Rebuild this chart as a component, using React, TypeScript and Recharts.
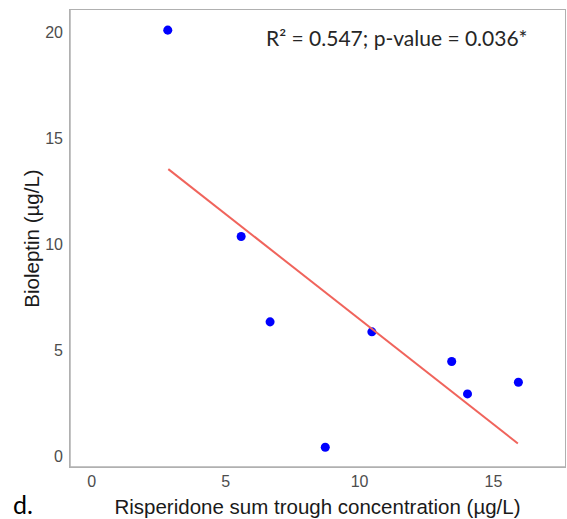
import React from 'react';
import { ScatterChart, Scatter, XAxis, YAxis, ZAxis } from 'recharts';

// readings taken off the figure
const concentration = [2.84, 5.58, 6.66, 8.72, 10.46, 13.44, 14.03, 15.93];
const bioleptin = [20.1, 10.36, 6.33, 0.41, 5.86, 4.46, 2.93, 3.48];

// fitted regression line, two ends
const fitX = [2.86, 15.91];
const fitY = [13.54, 0.59];

const xTicks = [0, 5, 10, 15];
const yTicks = [0, 5, 10, 15, 20];
const xLimits = [-0.81, 17.67];
const yLimits = [-0.52, 21.05];

const points = concentration.map((x, i) => ({ x, y: bioleptin[i] }));
const fitLine = fitX.map((x, i) => ({ x, y: fitY[i] }));

const frame = '#b0b0b0';
const tickStyle = { fill: '#4d4d4d', fontSize: 16, fontFamily: 'Liberation Sans, Arial, sans-serif' };
const titleStyle = { fill: '#1a1a1a', fontSize: 20.5, fontFamily: 'Liberation Sans, Arial, sans-serif' };

const App: React.FC = () => {
  return (
    <div style={{ position: 'absolute', left: 0, top: 0, width: 567, height: 519, background: '#fff' }}>
      <ScatterChart width={567} height={519} margin={{ top: 10, right: 2, bottom: 0, left: 0 }}>
        <XAxis
          type="number"
          dataKey="x"
          domain={xLimits}
          ticks={xTicks}
          allowDataOverflow
          height={52}
          tickLine={false}
          tickMargin={3}
          axisLine={{ stroke: frame, strokeWidth: 1.5 }}
          tick={tickStyle}
          label={{ value: 'Risperidone sum trough concentration (µg/L)', position: 'insideBottom', offset: 5, style: titleStyle }}
        />
        <YAxis
          type="number"
          dataKey="y"
          domain={yLimits}
          ticks={yTicks}
          allowDataOverflow
          width={70}
          tickLine={false}
          tickMargin={1}
          axisLine={{ stroke: frame, strokeWidth: 1.5 }}
          tick={tickStyle}
          label={{ value: 'Bioleptin (µg/L)', angle: -90, position: 'center', dx: -3, style: titleStyle }}
        />
        <ZAxis range={[50, 50]} />
        <Scatter data={points} fill="#0000ff" isAnimationActive={false} />
        <Scatter
          data={fitLine}
          line={{ stroke: '#f0645c', strokeWidth: 2 }}
          lineType="joint"
          shape={() => <g />}
          isAnimationActive={false}
        />
      </ScatterChart>
      {/* panel border around the plot area */}
      <div
        style={{
          position: 'absolute',
          left: 69,
          top: 9,
          width: 497,
          height: 459,
          boxSizing: 'border-box',
          border: `1.5px solid ${frame}`,
          pointerEvents: 'none',
        }}
      />
      <div style={{ position: 'absolute', left: 266, top: 25, fontFamily: 'Lato, sans-serif', fontSize: 21, lineHeight: 1.2, color: '#262626', whiteSpace: 'nowrap' }}>
        R² = 0.547; p-value = 0.036*
      </div>
      <div style={{ position: 'absolute', left: 13, top: 489, fontFamily: 'Lato, sans-serif', fontSize: 25, lineHeight: 1.2, color: '#000' }}>
        d.
      </div>
    </div>
  );
};

export default App;
